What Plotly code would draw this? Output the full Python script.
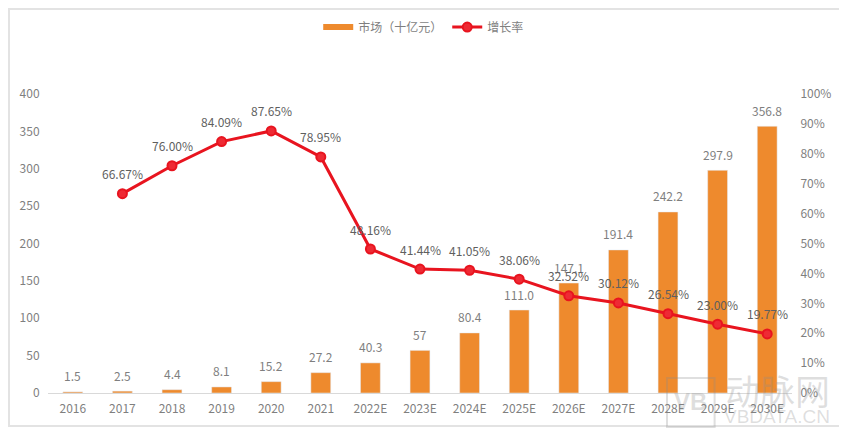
import plotly.graph_objects as go

years = ["2016", "2017", "2018", "2019", "2020", "2021", "2022E", "2023E",
         "2024E", "2025E", "2026E", "2027E", "2028E", "2029E", "2030E"]
market = [1.5, 2.5, 4.4, 8.1, 15.2, 27.2, 40.3, 57, 80.4, 111.0, 147.1, 191.4, 242.2, 297.9, 356.8]
market_labels = ["1.5", "2.5", "4.4", "8.1", "15.2", "27.2", "40.3", "57", "80.4", "111.0",
                 "147.1", "191.4", "242.2", "297.9", "356.8"]
growth = [None, 66.67, 76.00, 84.09, 87.65, 78.95, 48.16, 41.44, 41.05, 38.06,
          32.52, 30.12, 26.54, 23.00, 19.77]

ORANGE = "#ee8a2d"
RED = "#e8141f"
GREY = "#7f7f7f"
FONT = "Noto Sans CJK SC, Noto Sans, sans-serif"
WATERMARK = "rgba(140,140,140,0.28)"

fig = go.Figure()

fig.add_trace(go.Bar(x=years, y=market, marker_color=ORANGE, width=0.4, showlegend=False))

# legend entry for the bars, plotly's own bar swatch is a small square
fig.add_trace(go.Scatter(x=[None], y=[None], mode="lines", name="市场（十亿元）",
                         line=dict(color=ORANGE, width=6)))

fig.add_trace(go.Scatter(x=years, y=growth, yaxis="y2", name="增长率", mode="lines+markers",
                         line=dict(color=RED, width=3),
                         marker=dict(size=9, color="#ee2a34", line=dict(color=RED, width=2))))

# value labels sit further from the marks than textposition allows
# x is the category index, a string like "2016" would be read as a position
notes = []
for i, (val, lab) in enumerate(zip(market, market_labels)):
    notes.append(dict(x=i, y=val, xref="x", yref="y", text=lab, showarrow=False, yshift=16,
                      font=dict(size=12, color=GREY)))
for i, val in enumerate(growth):
    if val is None:
        continue
    notes.append(dict(x=i, y=val, xref="x", yref="y2", text=f"{val:.2f}%", showarrow=False, yshift=20,
                      font=dict(size=12, color="#5f5f5f")))

# watermark, bottom right
for text, xpos, ypos, size in [("动脉网", 0.98, 0.003, 35), ("VBDATA.CN", 0.98, -0.08, 19), ("<b>VB</b>", 0.864, -0.03, 24)]:
    notes.append(dict(text=text, xref="paper", yref="paper", x=xpos, y=ypos, showarrow=False,
                      xanchor="center", yanchor="middle",
                      font=dict(size=size, color=WATERMARK, family="Liberation Sans, Noto Sans CJK SC")))

fig.update_layout(
    width=833, height=425,
    margin=dict(l=40, r=49, t=86, b=40, autoexpand=False),
    paper_bgcolor="white", plot_bgcolor="white",
    font=dict(family=FONT, size=12, color=GREY),
    legend=dict(orientation="h", x=0.505, xanchor="center", y=1.224, yanchor="middle",
                itemwidth=30, bgcolor="rgba(0,0,0,0)", font=dict(size=12, color=GREY)),
    xaxis=dict(type="category", range=[-0.5, 14.5], showgrid=False, ticks="outside", ticklen=5,
               tickcolor="white", showline=True, linecolor="#d9d9d9", linewidth=1),
    yaxis=dict(range=[0, 400], dtick=50, showgrid=False, zeroline=False, showline=False,
               ticks="outside", ticklen=5, tickcolor="white"),
    yaxis2=dict(range=[0, 100], dtick=10, overlaying="y", side="right", showgrid=False,
                zeroline=False, ticksuffix="%", ticks="outside", ticklen=5, tickcolor="white"),
    shapes=[
        dict(type="rect", xref="paper", yref="paper", x0=-0.0524, x1=1.0645, y0=-0.11, y1=1.284,
             line=dict(color="#e3e3e3", width=2), layer="below"),
        dict(type="rect", xref="paper", yref="paper", x0=0.832, x1=0.896, y0=-0.114, y1=0.05,
             line=dict(color=WATERMARK, width=2)),
    ],
    annotations=notes,
)

fig.write_html("out.html")
